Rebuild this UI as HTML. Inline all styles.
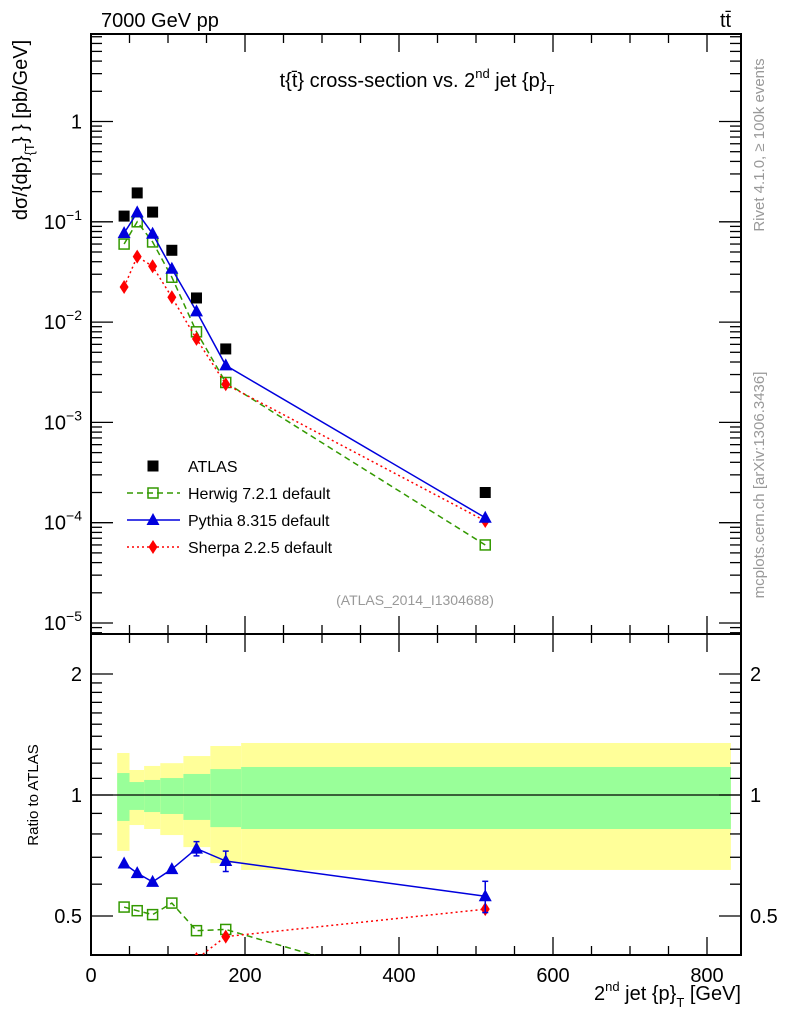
<!DOCTYPE html>
<html><head><meta charset="utf-8"><style>
html,body{margin:0;background:#fff;width:786px;height:1024px;overflow:hidden}
svg{font-family:"Liberation Sans",sans-serif;display:block;overflow:hidden}
</style></head><body>
<svg id="c" width="786" height="1024" xmlns="http://www.w3.org/2000/svg"></svg>
<script>
const xCenters=[43,60,80,105,137,175,512];
const binEdges=[34,50,69,90,120,155,195,831];
const atlas=[0.114,0.194,0.125,0.052,0.0174,0.0054,0.0002];
const herwig=[0.06,0.1,0.063,0.028,0.008,0.0025,0.00006];
const pythia=[0.077,0.124,0.076,0.034,0.0128,0.0037,0.000112];
const sherpa=[0.0224,0.045,0.036,0.0177,0.0068,0.0024,0.000104];
const greenHi=[1.134,1.077,1.09,1.102,1.128,1.16,1.174];
const greenLo=[0.862,0.918,0.907,0.897,0.867,0.832,0.823];
const yellowHi=[1.272,1.154,1.181,1.2,1.25,1.324,1.347];
const yellowLo=[0.726,0.842,0.823,0.795,0.742,0.677,0.651];
const pythiaErr=[0,0,0,0,0.03,0.04,0.05];
const xTicks=[0,200,400,600,800];
const mainTicks=[1,0.1,0.01,0.001,0.0001,0.00001];
const mainTickLabels=["1","10|-1","10|-2","10|-3","10|-4","10|-5"];
const ratioTicks=[0.5,1,2];

const NS="http://www.w3.org/2000/svg";
const svg=document.getElementById('c');
const L=91,R=741,T=34,MB=634,RB=955;
const X=v=>L+v*0.77;
const Y=v=>121.5-Math.log10(v)*100.3;
const YR=v=>795-Math.log10(v)*402;
function el(tag,attrs,parent){const e=document.createElementNS(NS,tag);for(const k in attrs)e.setAttribute(k,attrs[k]);(parent||svg).appendChild(e);return e;}
function txt(s,x,y,attrs){const e=el('text',Object.assign({x:x,y:y},attrs));e.textContent=s;return e;}

const defs=el('defs',{});
const cm=el('clipPath',{id:'cm'},defs);el('rect',{x:L,y:T,width:R-L,height:MB-T},cm);
const cr=el('clipPath',{id:'cr'},defs);el('rect',{x:L,y:MB,width:R-L,height:RB-MB},cr);

const bands=el('g',{'clip-path':'url(#cr)'});


for(let i=0;i<greenHi.length;i++){
  const x0=X(binEdges[i]),x1=X(binEdges[i+1]);
  const y=el('rect',{x:x0,y:YR(yellowHi[i]),width:x1-x0,height:YR(yellowLo[i])-YR(yellowHi[i]),fill:'#ffff99'},bands);
  
  
  const g=el('rect',{x:x0,y:YR(greenHi[i]),width:x1-x0,height:YR(greenLo[i])-YR(greenHi[i]),fill:'#99ff99'},bands);
  
  
}
el('line',{x1:L,x2:R,y1:YR(1),y2:YR(1),stroke:'#000','stroke-width':1.3});

for(const [t,b] of [[T,MB],[MB,RB]]){
  const f=el('rect',{x:L,y:t,width:R-L,height:b-t,fill:'none',stroke:'#000','stroke-width':2});
  
  
}
for(const [t,b] of [[T,MB],[MB,RB]]){
  for(let v=0;v<=840;v+=50){
    const len=v%200===0?18:9;
    el('line',{x1:X(v),x2:X(v),y1:b,y2:b-len,stroke:'#000','stroke-width':1.3});
    el('line',{x1:X(v),x2:X(v),y1:t,y2:t+len,stroke:'#000','stroke-width':1.3});
  }
}
xTicks.forEach(v=>{const e=txt(String(v),X(v),982,{'font-size':20,'text-anchor':'middle'});
  });
for(let d=-6;d<=1;d++){
  for(let m=1;m<10;m++){
    const v=m*Math.pow(10,d);const y=Y(v);
    if(y<T||y>MB)continue;
    const len=m===1?22:11;
    el('line',{x1:L,x2:L+len,y1:y,y2:y,stroke:'#000','stroke-width':1.3});
    el('line',{x1:R,x2:R-len,y1:y,y2:y,stroke:'#000','stroke-width':1.3});
  }
}
mainTicks.forEach((v,i)=>{
  const p=mainTickLabels[i].split('|');
  const e=txt('',82,Y(v)+7,{'font-size':20,'text-anchor':'end'});
  
  const a=el('tspan',{},e);a.textContent=p[0];
  if(p[1]){const b=el('tspan',{'font-size':14,dy:-9},e);b.textContent=p[1].replace('-','\u2212');}
});
for(let v=0.4;v<=2.5;v+=(v<2-1e-9?0.1:0.5)){
  const y=YR(v);if(y<MB||y>RB)continue;
  const major=Math.abs(v-0.5)<1e-6||Math.abs(v-1)<1e-6||Math.abs(v-2)<1e-6;
  const len=major?22:11;
  el('line',{x1:L,x2:L+len,y1:y,y2:y,stroke:'#000','stroke-width':1.3});
  el('line',{x1:R,x2:R-len,y1:y,y2:y,stroke:'#000','stroke-width':1.3});
}
ratioTicks.forEach(v=>{
  const a=txt(String(v),82,YR(v)+7,{'font-size':20,'text-anchor':'end'});
  
  const b=txt(String(v),750,YR(v)+7,{'font-size':20});
  
});

function series(vals,color,dash,marker,name,clip,Yf,errs){
  const g=el('g',{'clip-path':clip});
  
  
  const pts=vals.map((v,i)=>[X(xCenters[i]),Yf(v)]);
  if(color!=='#000'){
    const pl=el('polyline',{points:pts.map(p=>p.join(',')).join(' '),fill:'none',stroke:color,'stroke-width':1.5},g);
    if(dash)pl.setAttribute('stroke-dasharray',dash);
  }
  pts.forEach(([x,y],i)=>{
    if(errs&&errs[i]){const y1=Yf(vals[i]+errs[i]),y2=Yf(vals[i]-errs[i]);
      el('line',{x1:x,x2:x,y1:y1,y2:y2,stroke:color,'stroke-width':1.5},g);
      el('line',{x1:x-3,x2:x+3,y1:y1,y2:y1,stroke:color,'stroke-width':1.5},g);
      el('line',{x1:x-3,x2:x+3,y1:y2,y2:y2,stroke:color,'stroke-width':1.5},g);}
    drawMarker(g,marker,x,y,color);
  });
}
function drawMarker(g,m,x,y,c){
  let e;
  if(m==='sq')e=el('rect',{x:x-5.5,y:y-5.5,width:11,height:11,fill:'#000'},g);
  else if(m==='osq')e=el('rect',{x:x-5,y:y-5,width:10,height:10,fill:'#fff','fill-opacity':0,stroke:c,'stroke-width':1.5},g);
  else if(m==='tri')e=el('polygon',{points:`${x},${y-7} ${x-6.5},${y+5} ${x+6.5},${y+5}`,fill:c},g);
  else e=el('polygon',{points:`${x},${y-7} ${x-4.5},${y} ${x},${y+7} ${x+4.5},${y}`,fill:c},g);
  
  
}
series(herwig,'#339900','6,4','osq','herwig-series','url(#cm)',Y);
series(sherpa,'#ff0000','2,3','dia','sherpa-series','url(#cm)',Y);
series(pythia,'#0000dd',null,'tri','pythia-series','url(#cm)',Y);
series(atlas,'#000',null,'sq','atlas-data','url(#cm)',Y);
const rH=herwig.map((v,i)=>v/atlas[i]),rP=pythia.map((v,i)=>v/atlas[i]),rS=sherpa.map((v,i)=>v/atlas[i]);
series(rH,'#339900','6,4','osq','herwig-ratio','url(#cr)',YR);
series(rS,'#ff0000','2,3','dia','sherpa-ratio','url(#cr)',YR);
series(rP,'#0000dd',null,'tri','pythia-ratio','url(#cr)',YR,pythiaErr);

const lg=el('g',{});


const items=[['ATLAS','#000',null,'sq'],['Herwig 7.2.1 default','#339900','6,4','osq'],['Pythia 8.315 default','#0000dd',null,'tri'],['Sherpa 2.2.5 default','#ff0000','2,3','dia']];
items.forEach((it,i)=>{
  const y=466+i*27;
  const ent=el('g',{},lg);
  
  
  if(i>0){const l=el('line',{x1:127,x2:180,y1:y,y2:y,stroke:it[1],'stroke-width':1.5},ent);if(it[2])l.setAttribute('stroke-dasharray',it[2]);}
  drawMarker(ent,it[3],153,y,it[1]);
  const t=txt(it[0],188,y+6,{'font-size':16});ent.appendChild(t);
});

let e;
e=txt('7000 GeV pp',101,27,{'font-size':20});
e=txt('tt\u0304',720,27,{'font-size':20});
e=el('text',{x:417,y:87,'font-size':20,'text-anchor':'middle'});
e.innerHTML='t{t\u0304} cross-section vs. 2<tspan font-size="13" dy="-9">nd</tspan><tspan dy="9"> jet {p}</tspan><tspan font-size="13" dy="7">T</tspan>';
e=el('text',{transform:'translate(27,130) rotate(-90)','font-size':20,'text-anchor':'middle'});
e.innerHTML='dσ/{dp}<tspan font-size="13" dy="7">{T</tspan><tspan dy="-7">} } [pb/GeV]</tspan>';
e=el('text',{transform:'translate(38,795) rotate(-90)','font-size':15,'text-anchor':'middle'});e.textContent='Ratio to ATLAS';
e=el('text',{x:741,y:1000,'font-size':20,'text-anchor':'end'});
e.innerHTML='2<tspan font-size="13" dy="-9">nd</tspan><tspan dy="9"> jet {p}</tspan><tspan font-size="13" dy="7">T</tspan><tspan dy="-7"> [GeV]</tspan>';
e=el('text',{transform:'translate(764,145) rotate(-90)','font-size':15,'text-anchor':'middle',fill:'#999'});e.textContent='Rivet 4.1.0, \u2265 100k events';
e=el('text',{transform:'translate(764,485) rotate(-90)','font-size':15,'text-anchor':'middle',fill:'#999'});e.textContent='mcplots.cern.ch [arXiv:1306.3436]';
e=txt('(ATLAS_2014_I1304688)',415,605,{'font-size':14,'text-anchor':'middle',fill:'#999'});
</script>
</body></html>
